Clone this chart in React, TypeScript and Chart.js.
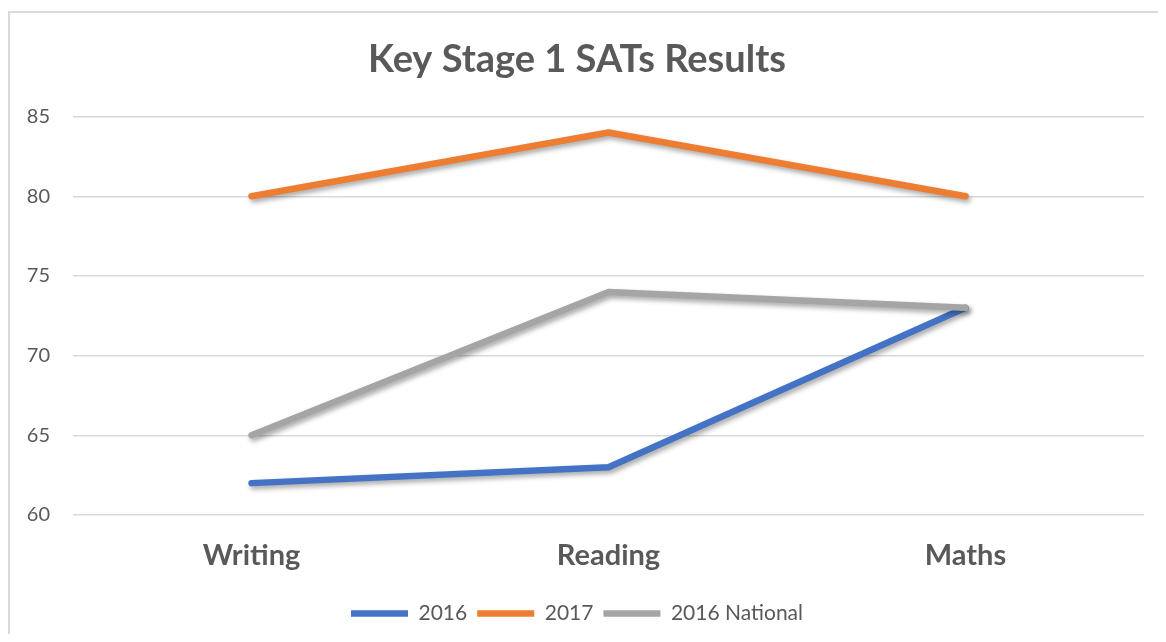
import React, { useEffect, useRef } from "react";
import { Chart, registerables } from "chart.js";

Chart.register(...registerables);

const categories = ["Writing", "Reading", "Maths"];
const series2016 = [62, 63, 73];
const series2017 = [80, 84, 80];
const seriesNational = [65, 74, 73];
const seriesNames = ["2016", "2017", "2016 National"];
const seriesColors = ["#4472C4", "#ED7D31", "#A5A5A5"];
const chartTitle = "Key Stage 1 SATs Results";

const shadowPlugin = {
  id: "lineShadow",
  beforeDatasetDraw(chart: any) {
    const ctx = chart.ctx;
    ctx.save();
    ctx.shadowColor = "rgba(0,0,0,0.35)";
    ctx.shadowBlur = 5;
    ctx.shadowOffsetX = 2;
    ctx.shadowOffsetY = 3;
  },
  afterDatasetDraw(chart: any) {
    chart.ctx.restore();
  },
};

export default function App() {
  const ref = useRef<HTMLCanvasElement | null>(null);

  useEffect(() => {
    if (!ref.current) return;
    const values = [series2016, series2017, seriesNational];
    const chart = new Chart(ref.current, {
      type: "line",
      data: {
        labels: categories,
        datasets: values.map((v, i) => ({
          label: seriesNames[i],
          data: v,
          borderColor: seriesColors[i],
          backgroundColor: seriesColors[i],
          borderWidth: 6.5,
          borderCapStyle: "round",
          borderJoinStyle: "round",
          pointRadius: 0,
          pointHoverRadius: 0,
          tension: 0,
          order: 3 - i,
        })),
      },
      options: {
        responsive: false,
        animation: false,
        maintainAspectRatio: false,
        layout: { padding: { left: 0, right: 14, top: 0, bottom: 0 } },
        plugins: {
          title: {
            display: true,
            text: chartTitle,
            color: "#595959",
            font: { family: "Lato", size: 38, weight: "bold" },
            padding: { top: 24, bottom: 34 },
          },
          legend: {
            position: "bottom",
            labels: {
              usePointStyle: true,
              pointStyle: "line",
              pointStyleWidth: 57,
              boxHeight: 20,
              color: "#595959",
              font: { family: "Lato", size: 21 },
              padding: 10,
              sort: (a: any, b: any) => a.datasetIndex - b.datasetIndex,
            },
          },
          tooltip: { enabled: false },
        },
        scales: {
          x: {
            offset: true,
            afterFit: (scale: any) => {
              scale.height = 78;
            },
            grid: { display: false, drawTicks: false },
            border: { display: false },
            ticks: {
              color: "#595959",
              font: { family: "Lato", size: 29, weight: "bold" },
              padding: 23,
            },
          },
          y: {
            min: 60,
            max: 85,
            afterFit: (scale: any) => {
              scale.width = 63;
            },
            grid: { color: "#d9d9d9", lineWidth: 1.5, drawTicks: false },
            border: { display: false },
            ticks: {
              stepSize: 5,
              color: "#595959",
              font: { family: "Lato", size: 20 },
              padding: 23,
            },
          },
        },
      },
      plugins: [shadowPlugin],
    } as any);
    return () => chart.destroy();
  }, []);

  return (
    <div
      style={{
        marginTop: 3,
        borderLeft: "2px solid #d9d9d9",
        borderTop: "2px solid #d9d9d9",
        width: 1148,
        height: 621,
        background: "#fff",
      }}
    >
      <canvas ref={ref} width={1148} height={621} style={{ display: "block" }} />
    </div>
  );
}
